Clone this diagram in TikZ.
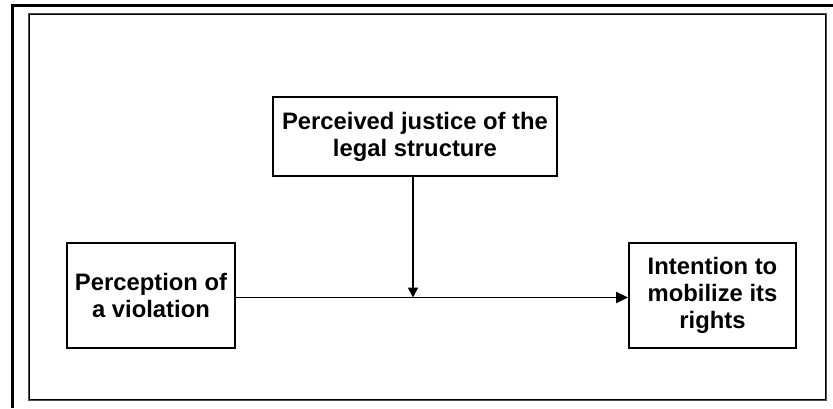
\documentclass[tikz,border=0pt]{standalone}
\usepackage{fontspec}
\setmainfont{Liberation Sans}
\usetikzlibrary{arrows.meta,calc}
\begin{document}
\begin{tikzpicture}[x=1pt,y=-1pt,
  box/.style={draw=black,line width=1.8pt,fill=white,inner sep=0pt,align=center,
    font=\fontsize{23.8}{27}\selectfont\bfseries},
  conn/.style={line width=1.8pt}]
\useasboundingbox (0,0) rectangle (833,408);
% page frames
\draw[line width=3pt] (12.5,408) -- (12.5,5) -- (833,5);
\draw[line width=2pt,draw=black!70] (29,14) rectangle (826,400);
\draw[line width=1pt,draw=black] (29.5,14.5) rectangle (825.5,399.5);
% boxes
\node[box,minimum width=284pt,minimum height=79pt] (top) at (415,136.5) {Perceived justice of the\\legal structure};
\node[box,minimum width=168pt,minimum height=105pt] (left) at (151,295.5) {Perception of\\a violation};
\node[box,minimum width=167pt,minimum height=105pt] (right) at (712.5,295.5) {Intention to\\mobilize its\\rights};
% connectors
\coordinate (a) at ($(left.east)+(0,2)$);
\coordinate (b) at ($(right.west)+(0,2)$);
\draw[conn,-{Triangle[length=12pt,width=11pt]}] (a) -- (b);
\coordinate (m) at ($(top.south)+(-2,0)$);
\draw[conn,-{Triangle[length=10pt,width=10pt]}] (m) -- (m |- a);
\end{tikzpicture}
\end{document}
